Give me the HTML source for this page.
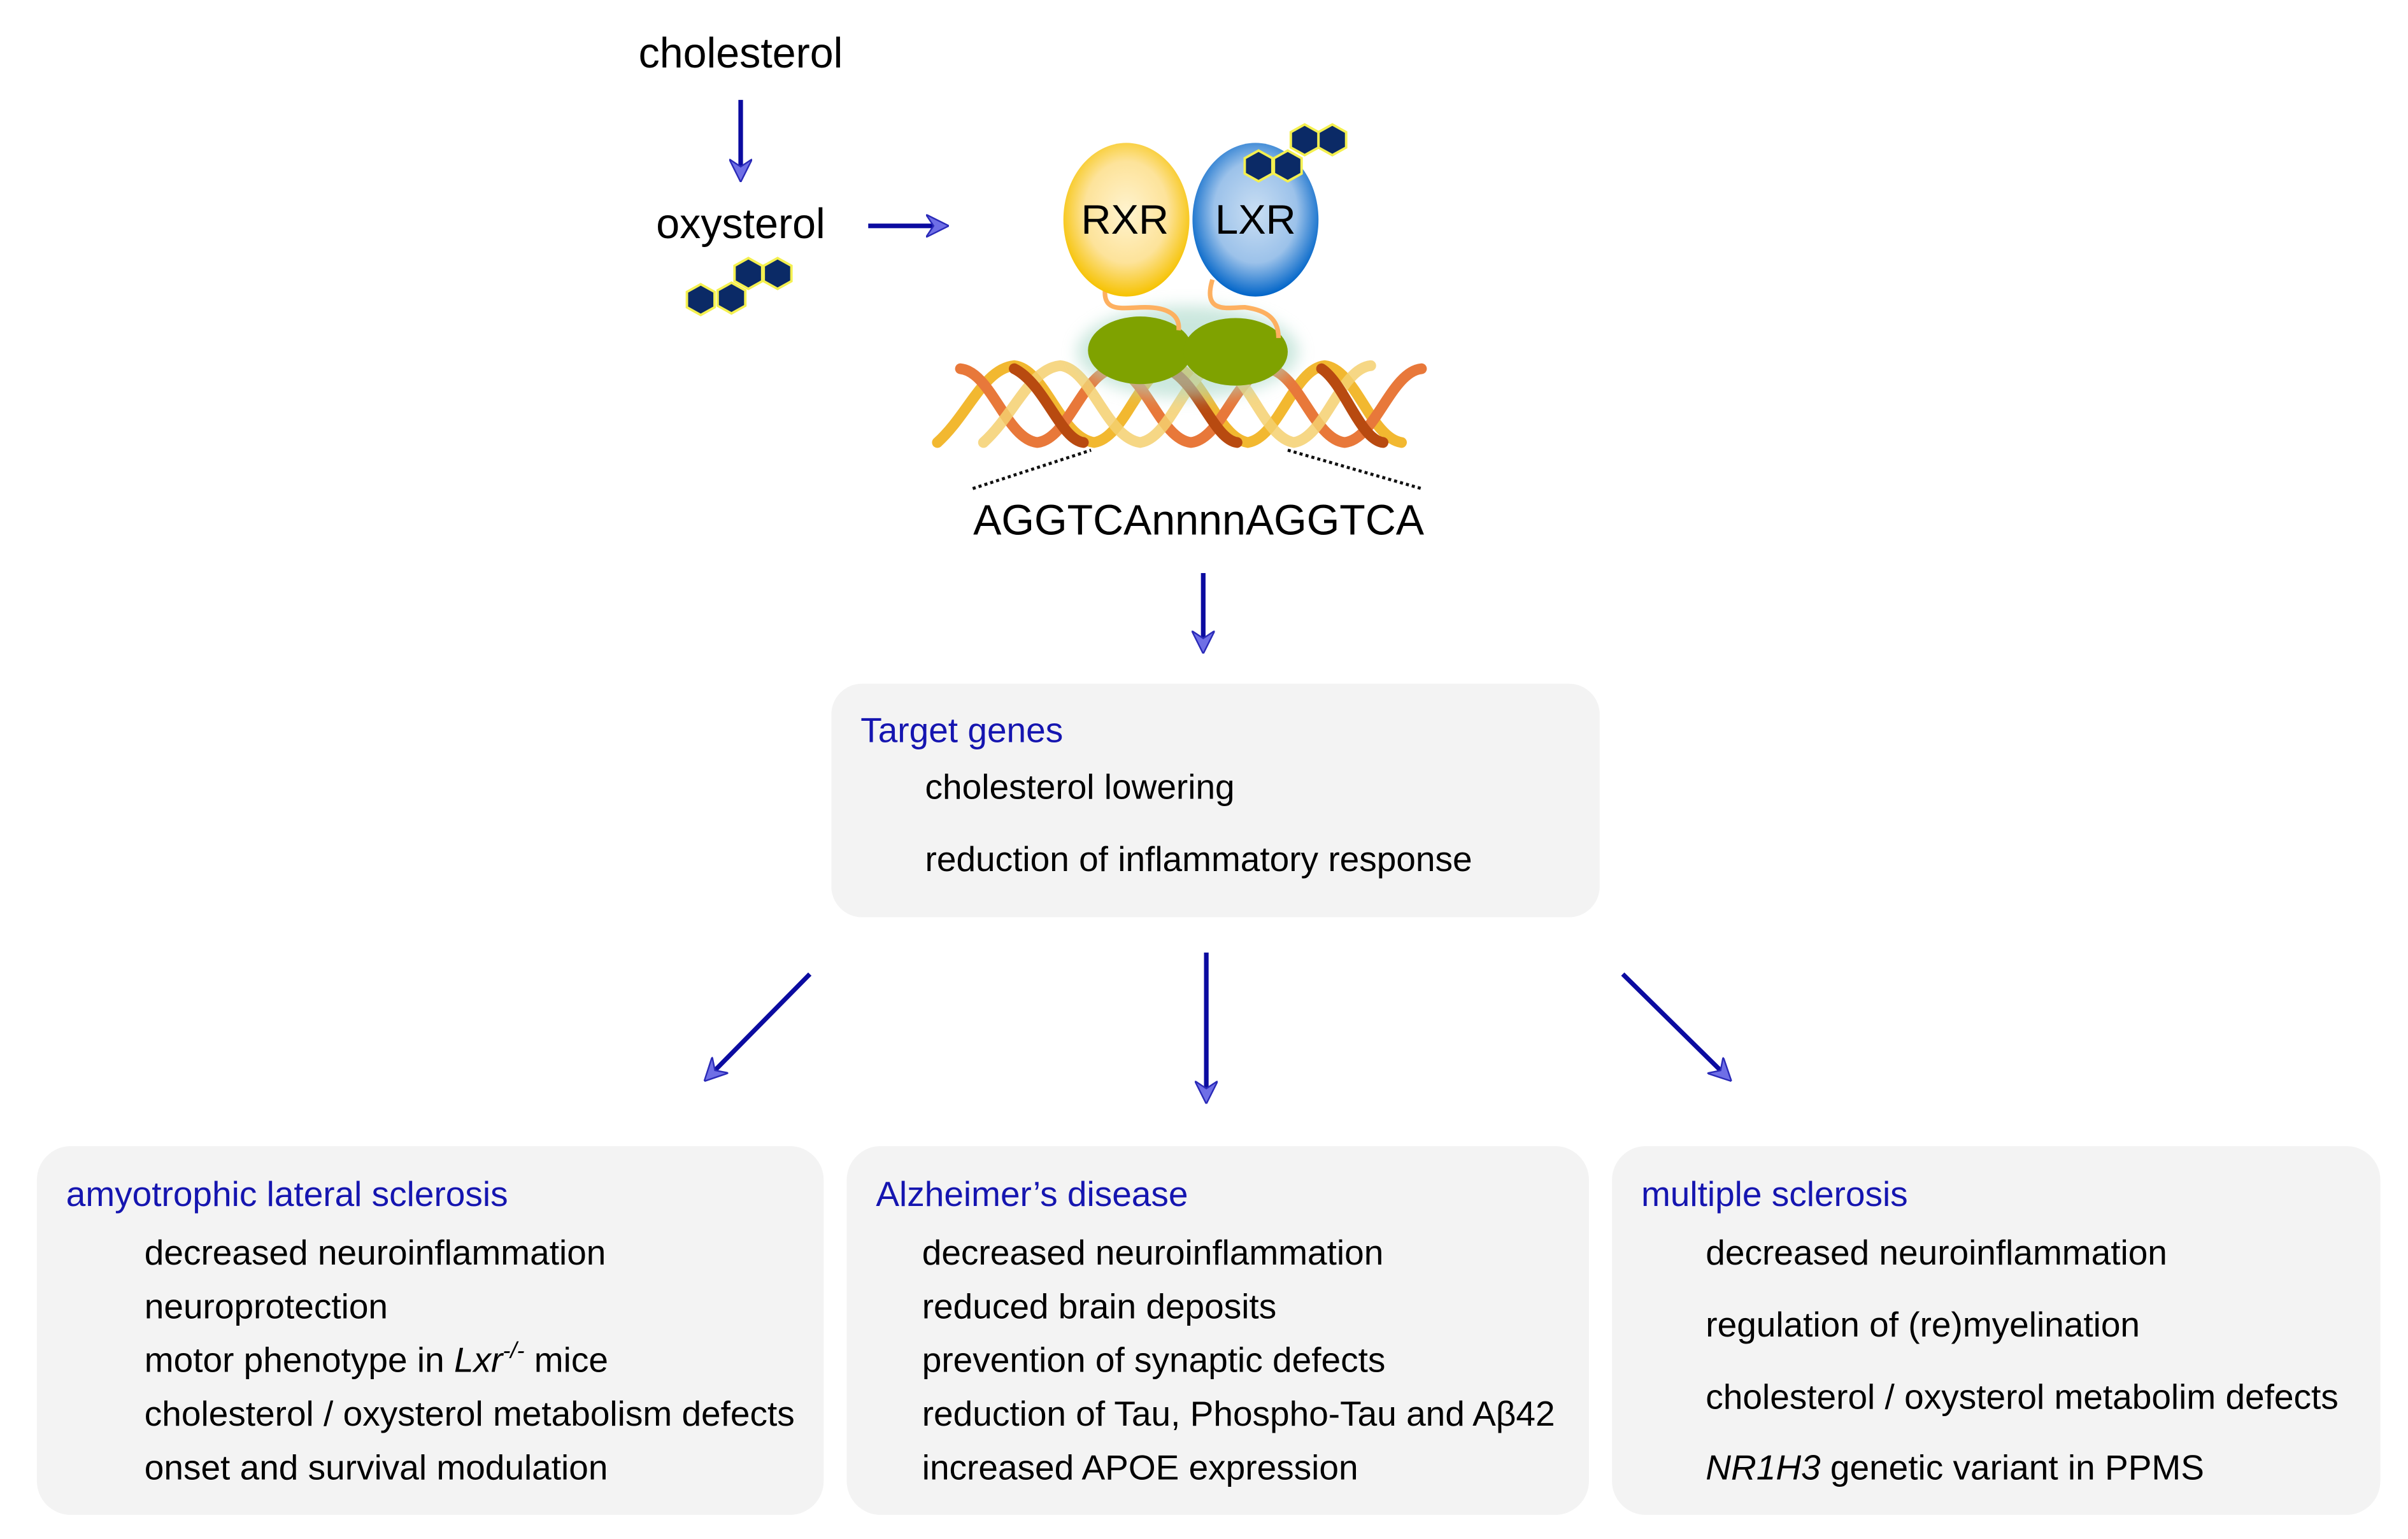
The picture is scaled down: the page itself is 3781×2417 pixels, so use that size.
<!DOCTYPE html>
<html><head><meta charset="utf-8"><style>
html,body{margin:0;padding:0;background:#fff;}
svg{display:block;}
text{font-family:"Liberation Sans",Arial,sans-serif;}
</style></head><body>
<svg width="3781" height="2417" viewBox="0 0 1567 1001.7" xmlns="http://www.w3.org/2000/svg">
<defs>
<marker id="ah" viewBox="0 0 12 12" refX="10" refY="6" markerWidth="5" markerHeight="5" orient="auto" markerUnits="strokeWidth">
<path d="M0,0 L12,6 L0,12 L4,6 Z" fill="#6f6fe6" stroke="#2a2ab8" stroke-width="0.8"/>
</marker>
<radialGradient id="gy" cx="0.5" cy="0.45" r="0.55"><stop offset="0" stop-color="#fff3cf"/><stop offset="0.6" stop-color="#fde39a"/><stop offset="1" stop-color="#f6c200"/></radialGradient>
<radialGradient id="gb" cx="0.5" cy="0.45" r="0.55"><stop offset="0" stop-color="#c9def3"/><stop offset="0.6" stop-color="#9cc2ea"/><stop offset="1" stop-color="#0064c8"/></radialGradient>
<filter id="glow" x="-50%" y="-50%" width="200%" height="200%"><feGaussianBlur stdDeviation="5"/></filter>
<g id="hex"><polygon points="0,-10 9,-5 9,5 0,10 -9,5 -9,-5" fill="#0b2a66" stroke="#f4f050" stroke-width="1.6"/></g>
</defs>
<g fill="none" stroke="#0b0ba0" stroke-width="3" marker-end="url(#ah)">
<line x1="482" y1="65" x2="482" y2="116"/>
<line x1="565" y1="147" x2="615" y2="147"/>
<line x1="783" y1="373" x2="783" y2="423"/>
<line x1="527" y1="634" x2="460" y2="702"/>
<line x1="785" y1="620" x2="785" y2="716"/>
<line x1="1056" y1="634" x2="1125" y2="702"/>
</g>
<text x="482" y="44" font-size="27.5" text-anchor="middle">cholesterol</text>
<text x="482" y="155" font-size="27.5" text-anchor="middle">oxysterol</text>
<use href="#hex" x="456" y="195"/><use href="#hex" x="476" y="194"/><use href="#hex" x="487" y="178"/><use href="#hex" x="506" y="178"/>
<g fill="none" stroke-width="7" stroke-linecap="round">
<path d="M610,288 C630,270 640,240 660,238 C680,240 690,285 712,288 C732,285 742,240 762,238 C782,240 792,285 812,288 C832,285 842,240 862,238 C882,240 892,285 912,288" stroke="#f2b830"/>
<path d="M625,240 C645,242 655,286 675,288 C695,286 705,242 725,240 C745,242 755,286 775,288 C795,286 805,242 825,240 C845,242 855,286 875,288 C895,286 905,242 925,240" stroke="#e8783a"/>
<path d="M640,288 C660,270 670,240 690,238 C710,240 720,285 742,288 C762,285 772,240 792,238 C812,240 822,285 842,288 C862,285 872,240 892,238" stroke="#f5d070" opacity="0.85"/>
<path d="M660,240 C680,250 690,286 705,288 M760,240 C780,250 790,286 805,288 M860,240 C875,250 885,286 900,288" stroke="#b84a10"/>
</g>
<ellipse cx="773" cy="229" rx="72" ry="30" fill="#a8d8c8" opacity="0.6" filter="url(#glow)"/>
<ellipse cx="742" cy="228" rx="34" ry="22" fill="#7fa200"/>
<ellipse cx="804" cy="229" rx="34" ry="22" fill="#7fa200"/>
<g fill="none" stroke="#fdb060" stroke-width="3">
<path d="M720,183 C715,205 730,200 745,200 C760,200 768,205 767,215"/>
<path d="M789,182 C782,205 800,200 810,200 C825,202 832,208 832,220"/>
</g>
<ellipse cx="733" cy="143" rx="41" ry="50" fill="url(#gy)"/>
<ellipse cx="817" cy="143" rx="41" ry="50" fill="url(#gb)"/>
<text x="732" y="152" font-size="27" text-anchor="middle">RXR</text>
<text x="817" y="152" font-size="27" text-anchor="middle">LXR</text>
<use href="#hex" x="819" y="108"/><use href="#hex" x="838" y="108"/><use href="#hex" x="849" y="91"/><use href="#hex" x="867" y="91"/>
<g stroke="#111" stroke-width="2" stroke-dasharray="2,2">
<line x1="633" y1="318" x2="710" y2="293"/>
<line x1="838" y1="293" x2="925" y2="318"/>
</g>
<text x="780" y="348" font-size="27.5" text-anchor="middle">AGGTCAnnnnAGGTCA</text>
<g fill="#f3f3f3">
<rect x="541" y="445" width="500" height="152" rx="20"/>
<rect x="24" y="746" width="512" height="240" rx="22"/>
<rect x="551" y="746" width="483" height="240" rx="22"/>
<rect x="1049" y="746" width="500" height="240" rx="22"/>
</g>
<g font-size="22.8">
<text x="560" y="483" fill="#1515b0">Target genes</text>
<text x="602" y="520">cholesterol lowering</text>
<text x="602" y="567">reduction of inflammatory response</text>
<text x="43" y="785" fill="#1515b0">amyotrophic lateral sclerosis</text>
<text x="94" y="823">decreased neuroinflammation</text>
<text x="94" y="858">neuroprotection</text>
<text x="94" y="893">motor phenotype in <tspan font-style="italic">Lxr</tspan><tspan font-style="italic" font-size="15" dy="-9">-/-</tspan><tspan dy="9"> mice</tspan></text>
<text x="94" y="928">cholesterol / oxysterol metabolism defects</text>
<text x="94" y="963">onset and survival modulation</text>
<text x="570" y="785" fill="#1515b0">Alzheimer’s disease</text>
<text x="600" y="823">decreased neuroinflammation</text>
<text x="600" y="858">reduced brain deposits</text>
<text x="600" y="893">prevention of synaptic defects</text>
<text x="600" y="928">reduction of Tau, Phospho-Tau and Aβ42</text>
<text x="600" y="963">increased APOE expression</text>
<text x="1068" y="785" fill="#1515b0">multiple sclerosis</text>
<text x="1110" y="823">decreased neuroinflammation</text>
<text x="1110" y="870">regulation of (re)myelination</text>
<text x="1110" y="917">cholesterol / oxysterol metabolim defects</text>
<text x="1110" y="963"><tspan font-style="italic">NR1H3</tspan> genetic variant in PPMS</text>
</g>
</svg>
</body></html>
